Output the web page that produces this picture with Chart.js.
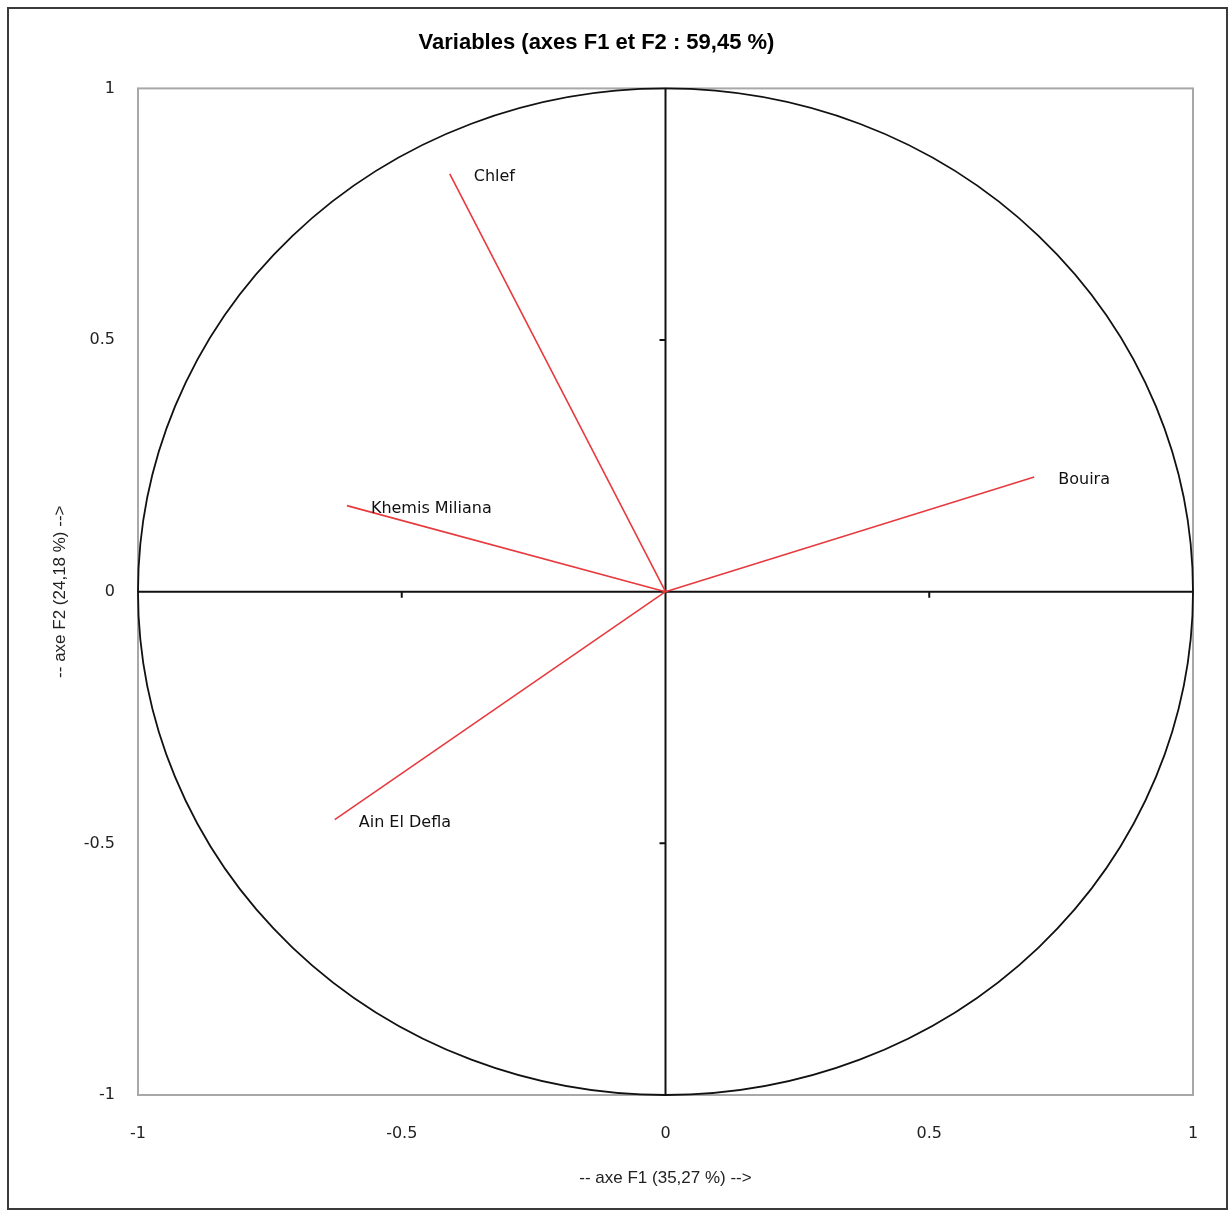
<!DOCTYPE html>
<html>
<head>
<meta charset="utf-8">
<script src="https://cdn.jsdelivr.net/npm/chart.js@4/dist/chart.umd.min.js"></script>
<style>
  html, body { margin: 0; padding: 0; background: #fff; }
  #wrap { width: 1229px; height: 1212px; }
</style>
</head>
<body>
<div id="wrap"><canvas id="myChart" width="1229" height="1212"></canvas></div>
<script>
// correlation circle: F1 / F2 coordinates of each variable
const variables = ['Chlef', 'Khemis Miliana', 'Bouira', 'Ain El Defla'];
const f1 = [-0.409, -0.604, 0.699, -0.627];
const f2 = [0.830, 0.171, 0.228, -0.453];
const tickValues = [-1, -0.5, 0, 0.5, 1];
const tickLabels = ['-1', '-0.5', '0', '0.5', '1'];

const RED = '#e63a3e';

// one dataset per variable: a segment from the origin to its coordinates
const datasets = variables.map((name, i) => ({
  label: name,
  data: [{x: 0, y: 0}, {x: f1[i], y: f2[i]}],
  showLine: true,
  borderColor: RED,
  borderWidth: 1.6,
  pointRadius: 0,
  pointHoverRadius: 0
}));

const circlePlugin = {
  id: 'circlePlugin',
  beforeDatasetsDraw(chart) {
    const {ctx, chartArea: a, scales: {x, y}} = chart;
    const cx = x.getPixelForValue(0), cy = y.getPixelForValue(0);
    ctx.save();
    // outer frame of the whole figure
    ctx.strokeStyle = '#3a3a3a';
    ctx.lineWidth = 2;
    ctx.strokeRect(8, 8, 1219, 1201);
    // plot frame
    ctx.strokeStyle = '#a8a8a8';
    ctx.lineWidth = 2;
    ctx.strokeRect(a.left, a.top, a.right - a.left, a.bottom - a.top);
    // unit circle
    ctx.strokeStyle = '#111';
    ctx.lineWidth = 1.8;
    ctx.beginPath();
    ctx.ellipse(cx, cy, x.getPixelForValue(1) - cx, cy - y.getPixelForValue(1), 0, 0, Math.PI * 2);
    ctx.stroke();
    // axes through the origin
    ctx.lineWidth = 2;
    ctx.beginPath();
    ctx.moveTo(a.left, cy); ctx.lineTo(a.right, cy);
    ctx.moveTo(cx, a.top); ctx.lineTo(cx, a.bottom);
    // small tick marks on those axes
    tickValues.forEach(v => {
      if (v === 0 || Math.abs(v) === 1) return;
      const px = x.getPixelForValue(v), py = y.getPixelForValue(v);
      ctx.moveTo(px, cy); ctx.lineTo(px, cy + 6);
      ctx.moveTo(cx, py); ctx.lineTo(cx - 6, py);
    });
    ctx.stroke();
    ctx.restore();
  },
  afterDatasetsDraw(chart) {
    const {ctx, scales: {x, y}} = chart;
    ctx.save();
    ctx.fillStyle = '#111';
    ctx.font = '16px "DejaVu Sans", sans-serif';
    ctx.textAlign = 'left';
    ctx.textBaseline = 'middle';
    variables.forEach((name, i) => {
      ctx.fillText(name, x.getPixelForValue(f1[i]) + 24, y.getPixelForValue(f2[i]) + 3);
    });
    ctx.restore();
  }
};

const tickFont = {family: '"DejaVu Sans", sans-serif', size: 16};
const titleFont = {family: '"Liberation Sans", Arial, sans-serif', size: 17};

new Chart(document.getElementById('myChart'), {
  type: 'scatter',
  data: {datasets},
  options: {
    responsive: false,
    animation: false,
    events: [],
    layout: {padding: {left: 0, right: 36, top: 0, bottom: 0}},
    plugins: {
      legend: {display: false},
      tooltip: {enabled: false},
      title: {
        display: true,
        text: 'Variables (axes F1 et F2 : 59,45 %)',
        color: '#000',
        font: {family: '"Liberation Sans", Arial, sans-serif', size: 22, weight: 'bold'},
        padding: {top: 30, bottom: 32}
      }
    },
    scales: {
      x: {
        type: 'linear',
        min: -1, max: 1,
        afterBuildTicks: s => { s.ticks = tickValues.map(v => ({value: v})); },
        afterFit: s => { s.height = 117; },
        grid: {display: false},
        border: {display: false},
        ticks: {
          color: '#222', font: tickFont, padding: 21,
          maxRotation: 0,
          callback: (v, i) => tickLabels[i]
        },
        title: {
          display: true, text: '-- axe F1 (35,27 %) -->',
          color: '#222', font: titleFont, padding: {top: 0, bottom: 23}
        }
      },
      y: {
        type: 'linear',
        min: -1, max: 1,
        afterBuildTicks: s => { s.ticks = tickValues.map(v => ({value: v})); },
        afterFit: s => { s.width = 138; },
        grid: {display: false},
        border: {display: false},
        ticks: {
          color: '#222', font: tickFont, padding: 15,
          callback: (v, i) => tickLabels[i]
        },
        title: {
          display: true, text: '-- axe F2 (24,18 %) -->',
          color: '#222', font: titleFont, padding: {top: 50, bottom: 0}
        }
      }
    }
  },
  plugins: [circlePlugin]
});
</script>
</body>
</html>
